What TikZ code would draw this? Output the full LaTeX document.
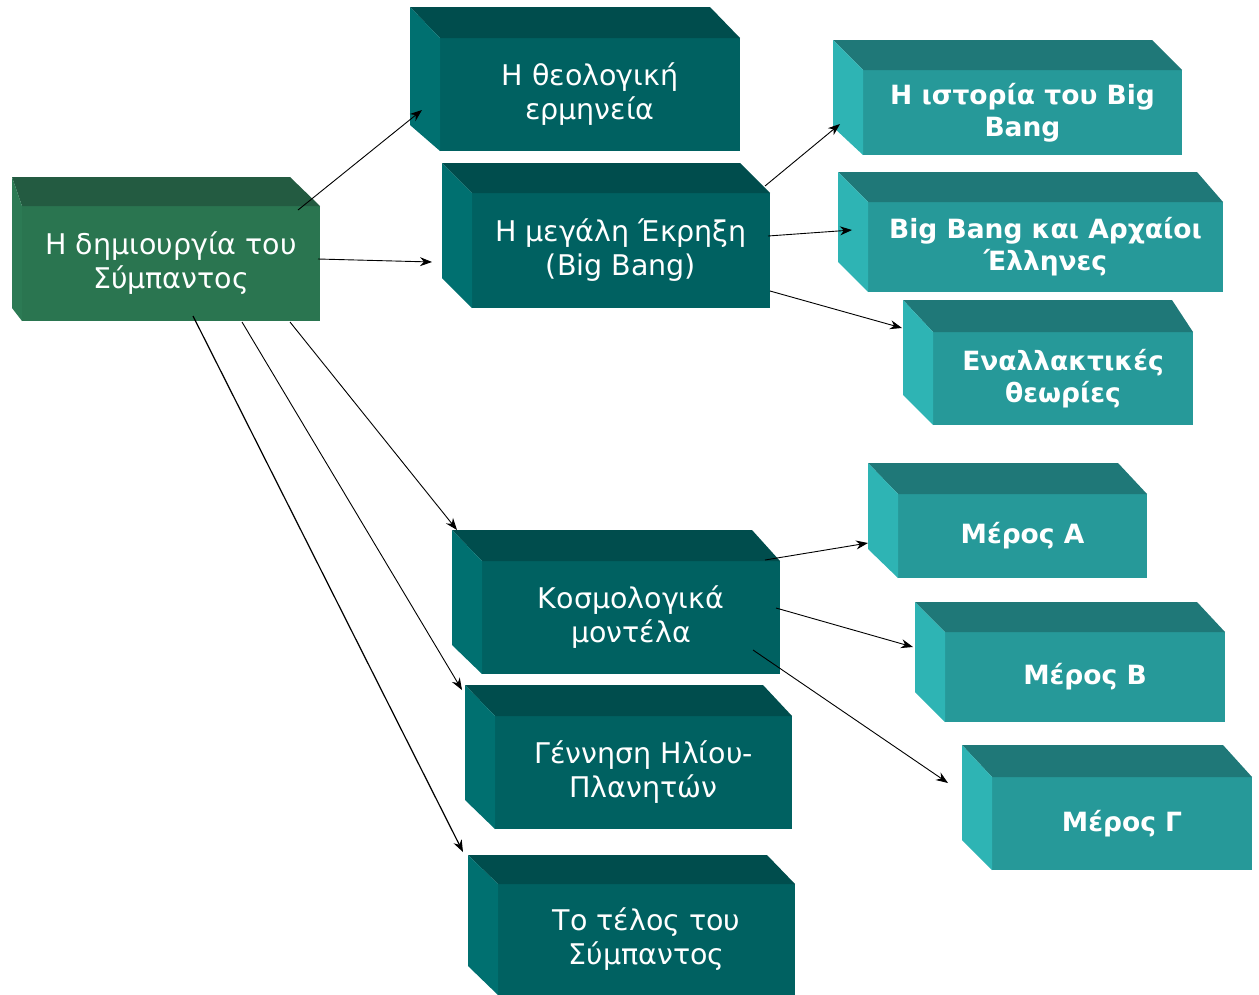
\documentclass[tikz,border=0pt]{standalone}
\usepackage{fontspec}
\setmainfont{DejaVu Sans}
\usetikzlibrary{arrows.meta}

% palettes: front face, top face, left face
\definecolor{gfront}{RGB}{42,117,80}
\definecolor{gtop}{RGB}{35,91,65}
\definecolor{gside}{RGB}{44,122,84}
\definecolor{dfront}{RGB}{0,97,97}
\definecolor{dtop}{RGB}{0,77,77}
\definecolor{dside}{RGB}{0,112,112}
\definecolor{lfront}{RGB}{38,153,153}
\definecolor{ltop}{RGB}{31,120,120}
\definecolor{lside}{RGB}{46,180,180}

\tikzset{
  face/.style={inner sep=0pt, outer sep=0pt, align=center, text=white},
  grface/.style={face, fill=gfront, font=\fontsize{28.5}{34}\selectfont},
  dkface/.style={face, fill=dfront, font=\fontsize{28.5}{34}\selectfont},
  ltface/.style={face, fill=lfront, font=\bfseries\fontsize{26.5}{32}\selectfont},
  conn/.style={draw=black, line width=0.9pt, -{Stealth[length=12pt,width=9pt]}},
}

% top and left faces of an extruded box
% #1 front node, #2 palette, #3 back left x, #4 back top y, #5 back right x, #6 left face bottom y
\newcommand\prismsides[6]{%
  \fill[#2top] (#3,#4) -- (#5,#4) -- (#1.north east) -- (#1.north west) -- cycle;
  \fill[#2side] (#3,#4) -- (#1.north west) -- (#1.south west) -- (#3,#6) -- cycle;
}

\begin{document}
\begin{tikzpicture}[x=1pt, y=-1pt]
\useasboundingbox (0,0) rectangle (1259,994);

% root
\node[grface, minimum width=298pt, minimum height=115pt] (main) at (171,263.5) {Η δημιουργία του\\Σύμπαντος};
\prismsides{main}{g}{12}{177}{290}{308}

% second level
\node[dkface, minimum width=300pt, minimum height=113pt] (theo) at (590,94.5) {Η θεολογική\\ερμηνεία};
\prismsides{theo}{d}{410}{7}{710}{125}
\node[dkface, minimum width=298pt, minimum height=115pt] (bigbang) at (621,250.5) {Η μεγάλη Έκρηξη\\(Big Bang)};
\prismsides{bigbang}{d}{442}{163}{740}{278}
\node[dkface, minimum width=298pt, minimum height=113pt] (cosmo) at (631,617.5) {Κοσμολογικά\\μοντέλα};
\prismsides{cosmo}{d}{452}{530}{752}{645}
\node[dkface, minimum width=297pt, minimum height=113pt] (birth) at (643.5,772.5) {Γέννηση Ηλίου-\\Πλανητών};
\prismsides{birth}{d}{465}{685}{763}{800}
\node[dkface, minimum width=297pt, minimum height=111pt] (theend) at (646.5,939.5) {Το τέλος του\\Σύμπαντος};
\prismsides{theend}{d}{468}{855}{767}{966}

% third level
\node[ltface, minimum width=319pt, minimum height=85pt] (history) at (1022.5,112.5) {Η ιστορία του Big\\Bang};
\prismsides{history}{l}{833}{40}{1152}{127}
\node[ltface, minimum width=355pt, minimum height=90pt] (greeks) at (1045.5,247) {Big Bang και Αρχαίοι\\Έλληνες};
\prismsides{greeks}{l}{838}{172}{1197}{262}
\node[ltface, minimum width=260pt, minimum height=93pt] (alt) at (1063,378.5) {Εναλλακτικές\\θεωρίες};
\prismsides{alt}{l}{903}{300}{1172}{395}
\node[ltface, minimum width=249pt, minimum height=84pt] (partA) at (1022.5,536) {Μέρος Α};
\prismsides{partA}{l}{868}{463}{1118}{549}
\node[ltface, minimum width=280pt, minimum height=90pt] (partB) at (1085,677) {Μέρος Β};
\prismsides{partB}{l}{915}{602}{1197}{692}
\node[ltface, minimum width=260pt, minimum height=93pt] (partC) at (1122,823.5) {Μέρος Γ};
\prismsides{partC}{l}{962}{745}{1223}{840}

% connector end points
\coordinate (main-theo-s) at (298,210);   \coordinate (main-theo-e) at (422,110);
\coordinate (main-bb-s) at (318,259);     \coordinate (main-bb-e) at (432,262);
\coordinate (main-cosmo-s) at (290,322);  \coordinate (main-cosmo-e) at (457,530);
\coordinate (main-birth-s) at (242,322);  \coordinate (main-birth-e) at (462,690);
\coordinate (main-end-s) at (193,316);    \coordinate (main-end-e) at (463,852);
\coordinate (bb-hist-s) at (765,186);     \coordinate (bb-hist-e) at (840,124);
\coordinate (bb-greeks-s) at (768,236);   \coordinate (bb-greeks-e) at (852,230);
\coordinate (bb-alt-s) at (770,291);      \coordinate (bb-alt-e) at (902,328);
\coordinate (cosmo-A-s) at (765,560);     \coordinate (cosmo-A-e) at (868,543);
\coordinate (cosmo-B-s) at (776,608);     \coordinate (cosmo-B-e) at (913,647);
\coordinate (cosmo-C-s) at (753,650);     \coordinate (cosmo-C-e) at (948,783);

\draw[conn] (main-theo-s) -- (main-theo-e);
\draw[conn] (main-bb-s) -- (main-bb-e);
\draw[conn] (main-cosmo-s) -- (main-cosmo-e);
\draw[conn] (main-birth-s) -- (main-birth-e);
\draw[conn, line width=1.2pt] (main-end-s) -- (main-end-e);
\draw[conn] (bb-hist-s) -- (bb-hist-e);
\draw[conn] (bb-greeks-s) -- (bb-greeks-e);
\draw[conn] (bb-alt-s) -- (bb-alt-e);
\draw[conn] (cosmo-A-s) -- (cosmo-A-e);
\draw[conn] (cosmo-B-s) -- (cosmo-B-e);
\draw[conn] (cosmo-C-s) -- (cosmo-C-e);
\end{tikzpicture}
\end{document}
